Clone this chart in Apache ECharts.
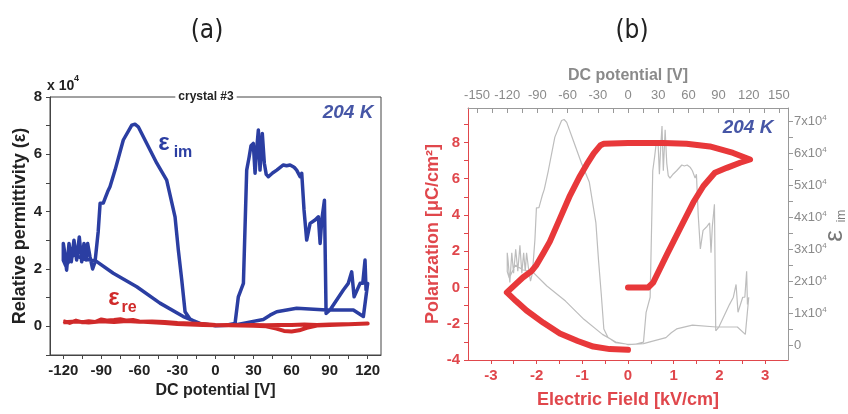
<!DOCTYPE html>
<html>
<head>
<meta charset="utf-8">
<script src="https://cdn.jsdelivr.net/npm/echarts@6/dist/echarts.min.js"></script>
<style>
html,body{margin:0;padding:0;background:#fff;}
#c{width:848px;height:414px;}
</style>
</head>
<body>
<div id="c"></div>
<script>
// ---------- DATA ----------
// Panel (a): imaginary permittivity (x10^4) vs DC potential [V], in measurement order
const imV = [0,8,15.4,18,22,24.6,26.5,28,29.8,31.2,32.5,33.8,35.1,36.9,38.5,40,41.7,45,48.3,53.5,56,58.8,62,64,66.7,68,69.8,71.9,74.6,78.5,81.1,82.5,83.8,85.9,87.2,90.3,100.8,104.7,107.4,109.3,114,116.1,117.9,118.7,120,
  116.6,108.7,87.6,64,48.3,43,37.7,24.6,15.4,0,
  -2,-12.2,-20,-24,-26.6,-29.3,-31.9,-38.5,-46.3,-54.2,-60.9,-63.5,-66,-72.7,-79.2,-83.2,-85,-87,-88.5,-91,-92.5,-95,-96.9,-99,-100.8,-102.1,-103.7,-105.5,-107.4,-109.5,-111.6,-113.7,-115.5,-117.4,-119.2,-120,
  -120,-118,-112,-104,-95,-80.6,-62.1,-43.8,-25.4,-12.2,-2,0];
const imVal = [0.03,0.04,0.1,1.03,1.5,5.45,5.9,6.3,6.38,5.34,6.2,6.85,5.45,6.73,5.69,5.3,5.22,5.35,5.45,5.63,5.6,5.63,5.55,5.45,5.22,5.34,4.06,3.01,3.59,3.71,3.82,2.89,3.71,4.4,0.45,0.57,1.27,1.5,1.9,1.03,1.5,1.5,2.31,1.27,1.5,
  0.34,0.57,0.57,0.63,0.51,0.39,0.24,0.13,0.05,0.02,
  0.04,0.08,0.25,0.51,1.61,2.66,3.82,5.1,5.69,6.38,6.96,7.05,7.02,6.5,5.45,4.87,4.7,4.47,4.3,4.29,3.3,2.25,2.0,2.43,2.89,2.31,2.89,2.25,3.12,2.31,3.0,2.25,2.89,1.96,2.66,2.89,
  2.3,2.1,2.5,2.35,2.3,1.85,1.38,0.81,0.34,0.1,0.04,0.03];

// Panel (a): real permittivity (x10^4)
const reV = [-120,-115,-110,-105,-100,-95,-90,-85,-80,-75,-70,-65,-60,-50,-40,-30,-20,-10,0,10,20,30,40,50,60,70,80,90,100,110,120,
  110,100,90,80,72,66,60,54,48,40,30,20,10,0,-10,-20,-30,-40,-50,-60,-70,-80,-90,-100,-110,-120];
const reVal = [0.18,0.12,0.2,0.14,0.18,0.15,0.24,0.2,0.22,0.25,0.2,0.22,0.17,0.14,0.12,0.08,0.06,0.05,0.04,0.05,0.04,0.05,0.04,0.05,0.05,0.06,0.05,0.06,0.07,0.08,0.1,
  0.08,0.06,0.05,0.03,-0.05,-0.14,-0.18,-0.16,-0.08,0.0,0.02,0.03,0.04,0.05,0.08,0.1,0.12,0.15,0.17,0.16,0.19,0.15,0.18,0.13,0.17,0.14];

// Panel (b): P-E hysteresis loop
const fieldE = [0,0.44,0.55,0.85,1.14,1.43,1.65,1.9,2.16,2.45,2.67,2.3,1.79,1.28,0.77,0,-0.53,-0.6,-0.75,-0.9,-1.05,-1.27,-1.49,-1.71,-1.85,-2.0,-2.11,-2.3,-2.65,-2.45,-2.22,-1.85,-1.49,-1.1,-0.76,-0.4,0];
const polP   = [0,0,0.27,1.81,3.26,4.7,5.6,6.33,6.6,6.88,7.06,7.42,7.78,7.93,7.97,7.97,7.93,7.85,7.4,6.8,6.15,5.07,3.8,2.53,1.9,1.25,0.9,0.55,-0.27,-0.75,-1.27,-1.95,-2.54,-2.95,-3.26,-3.4,-3.44];

// Tick / label values
const aXLabels = [-120,-90,-60,-30,0,30,60,90,120];
const aXTicks  = [-120,-105,-90,-75,-60,-45,-30,-15,0,15,30,45,60,75,90,105,120];
const aYLabels = [0,2,4,6,8];
const aYTicks  = [-1,0,1,2,3,4,5,6,7,8];
const bXLabels = [-3,-2,-1,0,1,2,3];
const bXTicks  = [-3,-2.5,-2,-1.5,-1,-0.5,0,0.5,1,1.5,2,2.5,3];
const bTopLabels = [-150,-120,-90,-60,-30,0,30,60,90,120,150];
const bTopTicks  = [-150,-135,-120,-105,-90,-75,-60,-45,-30,-15,0,15,30,45,60,75,90,105,120,135,150];
const bYLabels = [-4,-2,0,2,4,6,8];
const bYTicks  = [-4,-3,-2,-1,0,1,2,3,4,5,6,7,8,9];
const bRLabels = [0,1,2,3,4,5,6,7];
const bRTicks  = [0,0.5,1,1.5,2,2.5,3,3.5,4,4.5,5,5.5,6,6.5,7];

// ---------- CHART ----------
const zip = (a, b) => a.map((v, i) => [v, b[i]]);
const FONT = '"Liberation Sans", Arial, sans-serif';
const RED = '#e0474c';
const LOOP = '#e8383a';
const GRAY = '#8a8a8a';
const BLUE = '#2b3ea2';
const KBLUE = '#4656a6';

const chart = echarts.init(document.getElementById('c'), null, {renderer: 'canvas'});

chart.setOption({
  animation: false,
  backgroundColor: '#fff',
  textStyle: {fontFamily: FONT},
  grid: [
    {left: 50, top: 97, width: 331, height: 258, show: true, borderColor: '#444', borderWidth: 1, backgroundColor: 'transparent', containLabel: false},
    {left: 468, top: 108, width: 320, height: 256, show: false, containLabel: false}
  ],
  xAxis: [
    {
      gridIndex: 0, type: 'value', position: 'bottom', min: -130.5, max: 130.5,
      axisLine: {show: true, onZero: false, lineStyle: {color: '#444', width: 1}},
      axisTick: {show: true, inside: false, length: 4, customValues: aXTicks, lineStyle: {color: '#444'}},
      axisLabel: {customValues: aXLabels, fontWeight: 'bold', fontSize: 15, color: '#222', margin: 8, fontFamily: FONT},
      splitLine: {show: false},
      name: 'DC potential [V]', nameLocation: 'middle', nameGap: 28,
      nameTextStyle: {fontWeight: 'bold', fontSize: 16, color: '#222', fontFamily: FONT}
    },
    {
      gridIndex: 1, type: 'value', position: 'bottom', min: -3.5, max: 3.5,
      axisLine: {show: true, onZero: false, lineStyle: {color: RED, width: 1}},
      axisTick: {show: true, inside: false, length: 4, customValues: bXTicks, lineStyle: {color: RED}},
      axisLabel: {customValues: bXLabels, fontWeight: 'bold', fontSize: 15, color: RED, margin: 8, fontFamily: FONT},
      splitLine: {show: false},
      name: 'Electric Field [kV/cm]', nameLocation: 'middle', nameGap: 31,
      nameTextStyle: {fontWeight: 'bold', fontSize: 18, color: RED, fontFamily: FONT}
    },
    {
      gridIndex: 1, type: 'value', position: 'top', min: -159, max: 159,
      axisLine: {show: true, onZero: false, lineStyle: {color: '#999', width: 1}},
      axisTick: {show: true, inside: true, length: 5, customValues: bTopTicks, lineStyle: {color: '#999'}},
      axisLabel: {customValues: bTopLabels, fontSize: 13, color: GRAY, margin: 6, fontFamily: FONT},
      splitLine: {show: false},
      name: 'DC potential [V]', nameLocation: 'middle', nameGap: 24,
      nameTextStyle: {fontWeight: 'bold', fontSize: 16, color: GRAY, fontFamily: FONT}
    }
  ],
  yAxis: [
    {
      gridIndex: 0, type: 'value', position: 'left', min: -1, max: 8,
      axisLine: {show: true, onZero: false, lineStyle: {color: '#444', width: 1}},
      axisTick: {show: true, inside: false, length: 4, customValues: aYTicks, lineStyle: {color: '#444'}},
      axisLabel: {customValues: aYLabels, fontWeight: 'bold', fontSize: 15, color: '#222', margin: 8, fontFamily: FONT},
      splitLine: {show: false},
      name: 'Relative permittivity (ε)', nameLocation: 'middle', nameGap: 21, nameRotate: 90,
      nameTextStyle: {fontWeight: 'bold', fontSize: 18, color: '#222', fontFamily: FONT}
    },
    {
      gridIndex: 1, type: 'value', position: 'left', min: -4, max: 9.9,
      axisLine: {show: true, onZero: false, lineStyle: {color: RED, width: 1}},
      axisTick: {show: true, inside: false, length: 4, customValues: bYTicks, lineStyle: {color: RED}},
      axisLabel: {customValues: bYLabels, fontWeight: 'bold', fontSize: 15, color: RED, margin: 8, fontFamily: FONT},
      splitLine: {show: false},
      name: 'Polarization [μC/cm²]', nameLocation: 'middle', nameGap: 26, nameRotate: 90,
      nameTextStyle: {fontWeight: 'bold', fontSize: 18, color: RED, fontFamily: FONT}
    },
    {
      gridIndex: 1, type: 'value', position: 'right', min: -0.46, max: 7.41,
      axisLine: {show: true, onZero: false, lineStyle: {color: '#999', width: 1}},
      axisTick: {show: true, inside: false, length: 5, customValues: bRTicks, lineStyle: {color: '#999'}},
      axisLabel: {
        customValues: bRLabels, margin: 6, color: GRAY, fontFamily: FONT,
        formatter: v => (v === 0 ? '{m|0}' : '{m|' + v + 'x10}{s|4}'),
        rich: {
          m: {fontSize: 13, color: GRAY, fontFamily: FONT, lineHeight: 15},
          s: {fontSize: 8, color: GRAY, fontFamily: FONT, verticalAlign: 'top', lineHeight: 15}
        }
      },
      splitLine: {show: false}
    }
  ],
  series: [
    {
      type: 'line', xAxisIndex: 0, yAxisIndex: 0, data: zip(imV, imVal),
      showSymbol: false, symbol: 'none', lineStyle: {color: BLUE, width: 3.5, join: 'round'}, z: 2
    },
    {
      type: 'line', xAxisIndex: 0, yAxisIndex: 0, data: zip(reV, reVal),
      showSymbol: false, symbol: 'none', lineStyle: {color: '#d02a2a', width: 4, join: 'round'}, z: 3
    },
    {
      type: 'line', xAxisIndex: 2, yAxisIndex: 2, data: zip(imV, imVal),
      showSymbol: false, symbol: 'none', lineStyle: {color: '#bdbdbd', width: 1.2}, z: 2
    },
    {
      type: 'line', xAxisIndex: 1, yAxisIndex: 1, data: zip(fieldE, polP),
      showSymbol: false, symbol: 'none', lineStyle: {color: LOOP, width: 6, join: 'round', cap: 'round'}, z: 3
    }
  ],
  graphic: [
    {type: 'text', x: 207, y: 31, style: {text: '(a)', font: '26px "Liberation Sans Narrow", "DejaVu Sans Condensed", sans-serif', fill: '#222', align: 'center', verticalAlign: 'middle'}},
    {type: 'text', x: 632, y: 31, style: {text: '(b)', font: '26px "Liberation Sans Narrow", "DejaVu Sans Condensed", sans-serif', fill: '#222', align: 'center', verticalAlign: 'middle'}},
    {type: 'text', x: 47, y: 86, style: {text: 'x 10', font: 'bold 14px ' + FONT, fill: '#222', align: 'left', verticalAlign: 'middle'}},
    {type: 'text', x: 74, y: 79, style: {text: '4', font: 'bold 9px ' + FONT, fill: '#222', align: 'left', verticalAlign: 'middle'}},
    {type: 'text', x: 206, y: 97, z: 100, style: {text: 'crystal #3', font: 'bold 12px ' + FONT, fill: '#222', align: 'center', verticalAlign: 'middle', backgroundColor: '#fff', padding: [0, 3]}},
    {type: 'text', x: 348, y: 113, style: {text: '204 K', font: 'italic bold 19px ' + FONT, fill: KBLUE, align: 'center', verticalAlign: 'middle'}},
    {type: 'text', x: 748, y: 128, z: 100, style: {text: '204 K', font: 'italic bold 19px ' + FONT, fill: KBLUE, align: 'center', verticalAlign: 'middle'}},
    {type: 'text', x: 164, y: 143, style: {text: 'ε', font: 'bold 24px ' + FONT, fill: BLUE, align: 'center', verticalAlign: 'middle'}},
    {type: 'text', x: 183, y: 153, style: {text: 'im', font: 'bold 16px ' + FONT, fill: BLUE, align: 'center', verticalAlign: 'middle'}},
    {type: 'text', x: 114, y: 298, style: {text: 'ε', font: 'bold 24px ' + FONT, fill: '#d02a2a', align: 'center', verticalAlign: 'middle'}},
    {type: 'text', x: 129, y: 308, style: {text: 're', font: 'bold 16px ' + FONT, fill: '#d02a2a', align: 'center', verticalAlign: 'middle'}},
    {
      type: 'group', x: 835, y: 236, rotation: Math.PI / 2,
      children: [
        {type: 'text', x: 0, y: 0, style: {text: 'ε', font: '26px ' + FONT, fill: '#777', align: 'center', verticalAlign: 'middle'}},
        {type: 'text', x: 20, y: 7, style: {text: 'im', font: '12px ' + FONT, fill: '#777', align: 'center', verticalAlign: 'middle'}}
      ]
    }
  ]
});
</script>
</body>
</html>
